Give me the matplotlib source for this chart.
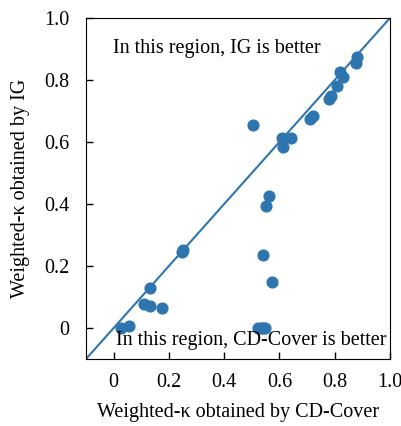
import matplotlib
matplotlib.use("Agg")
from matplotlib import pyplot as plt

# valores
cdcover = [0.881, 0.878, 0.819, 0.831, 0.808, 0.786, 0.779, 0.721, 0.709, 0.503,
           0.610, 0.641, 0.612, 0.563, 0.552, 0.252, 0.246, 0.540, 0.573, 0.133,
           0.109, 0.133, 0.175, 0.027, 0.055, 0.524, 0.533, 0.541, 0.548]
ig = [0.874, 0.854, 0.827, 0.809, 0.781, 0.748, 0.739, 0.684, 0.675, 0.654,
      0.614, 0.614, 0.585, 0.427, 0.395, 0.252, 0.244, 0.237, 0.150, 0.128,
      0.077, 0.072, 0.063, 0.0, 0.008, 0.0, 0.0, 0.0, 0.0]

ticks = [0, 0.2, 0.4, 0.6, 0.8, 1.0]
tick_labels = ["0", "0.2", "0.4", "0.6", "0.8", "1.0"]

plt.rcParams['font.family'] = ['Liberation Serif', 'DejaVu Serif']
plt.rcParams['font.size'] = 14.5

fig = plt.figure(figsize=(4.01, 4.26), dpi=100)
ax = fig.add_axes([86 / 401, 67 / 426, 304 / 401, 341 / 426])

color = '#2e75b0'
ax.plot([-0.1, 1.0], [-0.1, 1.0], color=color, lw=1.5, zorder=1)
ax.scatter(cdcover, ig, s=60, color=color, zorder=2)

ax.set_xlim(-0.1, 1.0)
ax.set_ylim(-0.1, 1.0)
ax.set_xticks(ticks)
ax.set_xticklabels(tick_labels)
ax.set_yticks(ticks)
ax.set_yticklabels(tick_labels)
ax.tick_params(direction='in', length=5, width=1, labelsize=14.5)
ax.tick_params(axis='y', pad=12)
ax.tick_params(axis='x', pad=10)

ax.text(0.09, 0.912, 'In this region, IG is better', transform=ax.transAxes,
        fontsize=14.5, va='center')
ax.text(0.1, 0.053, 'In this region, CD-Cover is better', transform=ax.transAxes,
        fontsize=14.5, va='center')

ax.set_xlabel('Weighted-\u03ba obtained by CD-Cover', fontsize=14.5, labelpad=8)
ax.set_ylabel('Weighted-\u03ba obtained by IG', fontsize=14.5, labelpad=10)

fig.savefig('out.png', dpi=100)
